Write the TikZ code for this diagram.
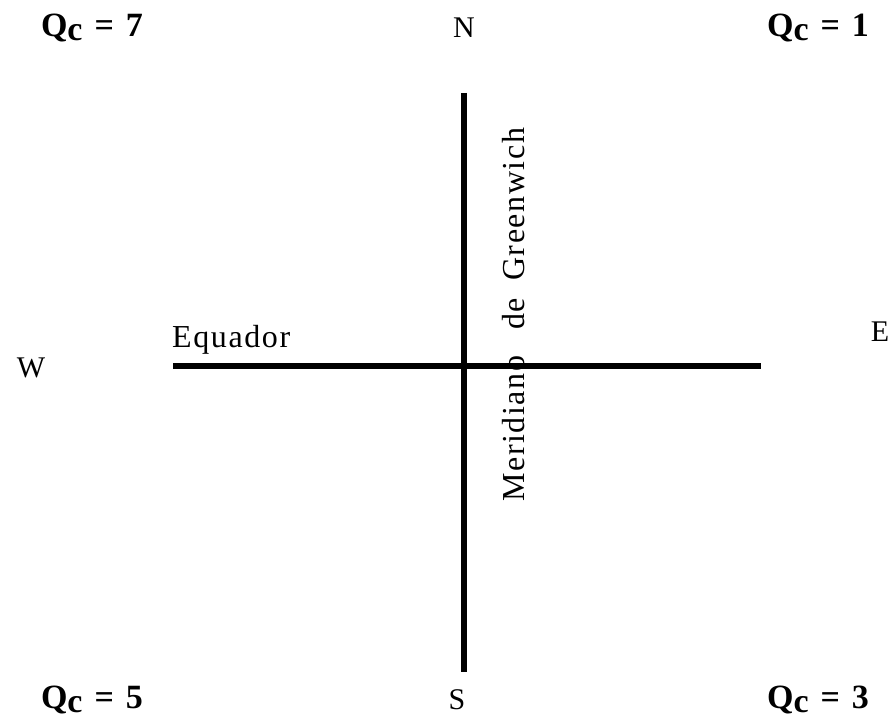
\documentclass[tikz,border=0pt]{standalone}
\usepackage{fontspec}
\setmainfont{Liberation Serif}
\newfontfamily\spaced[LetterSpace=5]{Liberation Serif}
\newcommand{\qclabel}[1]{\bfseries Q\raisebox{-4pt}{c}\hspace{12pt}=\hspace{12pt}#1}
\begin{document}
\begin{tikzpicture}[x=1pt,y=1pt,
  axis/.style={line width=5.5pt},
  cardinal/.style={font=\fontsize{30}{33}\selectfont, inner sep=0pt},
  qc/.style={font=\fontsize{34}{38}\selectfont, inner sep=0pt},
  axislabel/.style={font=\spaced\fontsize{32}{35}\selectfont, inner sep=0pt}]
\useasboundingbox (0,0) rectangle (893,723);
% cardinal points
\node[cardinal] (N) at (464,695) {N};
\node[cardinal] (S) at (457,23) {S};
\node[cardinal] (W) at (31,355) {W};
\node[cardinal] (E) at (880,391) {E};
% quadrant codes
\node[qc] (q7) at (92,695) {\qclabel{7}};
\node[qc] (q1) at (818,695) {\qclabel{1}};
\node[qc] (q5) at (92,23) {\qclabel{5}};
\node[qc] (q3) at (818,23) {\qclabel{3}};
% axis labels
\node[axislabel, anchor=base west] (eq) at (172,375) {Equador};
\node[axislabel, anchor=base west, rotate=90] (mer) at (524,221)
  {Meridiano\hspace{26pt}de\hspace{17pt}Greenwich};
% axes (drawn over the labels)
\coordinate (ntop) at (464,630);
\coordinate (sbot) at (464,51);
\coordinate (wend) at (173,357);
\coordinate (eend) at (761,357);
\draw[axis] (ntop) -- (sbot);
\draw[axis] (wend) -- (eend);
\end{tikzpicture}
\end{document}
